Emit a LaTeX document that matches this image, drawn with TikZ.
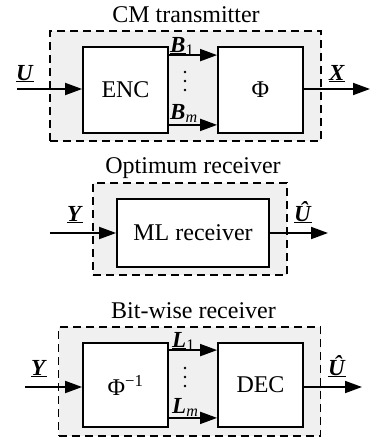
\documentclass[tikz,border=0pt]{standalone}
\usepackage{fontspec}
\setmainfont{Liberation Serif}
\usetikzlibrary{arrows.meta}
\begin{document}
\begin{tikzpicture}[x=1pt,y=-1pt,
  every node/.style={font=\fontsize{24}{26}\selectfont},
  grp/.style={draw,dash pattern=on 8pt off 5pt,fill=black!6,line width=1.8pt,inner sep=0},
  blk/.style={draw,fill=white,line width=1.8pt,inner sep=0},
  arr/.style={line width=1.8pt,-{Triangle[length=17pt,width=12pt]}},
  lab/.style={inner sep=0,font=\fontsize{23}{25}\selectfont},
  dotc/.style={fill=black,circle,inner sep=0,minimum size=2.6pt}]
\useasboundingbox (0,0) rectangle (371,437);
% ---------- CM transmitter ----------
\node[grp,minimum width=271,minimum height=110] (g1) at (185.5,86) {};
\node[anchor=base] (t1) at (186,22) {CM transmitter};
\node[blk,minimum width=85,minimum height=86] (enc) at (125.5,90) {ENC};
\node[blk,minimum width=85,minimum height=86] (phi) at (260.5,90) {Φ};
\coordinate (in1) at (17,89);
\coordinate (out1) at (370,89);
\draw[arr] (in1) -- (enc.west |- in1);
\draw[arr] (phi.east |- out1) -- (out1);
\draw[arr] ([yshift=-9pt]enc.north east) -- ([yshift=-9pt]phi.north west);
\draw[arr] ([yshift=9pt]enc.south east) -- ([yshift=9pt]phi.south west);
\node[lab,anchor=base] (lu) at (25,80) {\underline{\textbf{\textit{U}}}};
\node[lab,anchor=base] (lx) at (337,80) {\underline{\textbf{\textit{X}}}};
\node[lab,anchor=base west] (lb1) at (170,52) {\underline{\textbf{\textit{B}}}\textsubscript{1}};
\node[lab,anchor=base west] (lbm) at (170,119) {\underline{\textbf{\textit{B}}\textsubscript{\textit{m}}}};
\node[dotc] (d11) at (185,72) {};
\node[dotc] (d12) at (185,81) {};
\node[dotc] (d13) at (185,90) {};
% ---------- Optimum receiver ----------
\node[grp,minimum width=194,minimum height=92] (g2) at (190,229) {};
\node[anchor=base] (t2) at (193,173) {Optimum receiver};
\node[blk,minimum width=152,minimum height=68] (ml) at (193,233) {ML receiver};
\coordinate (in2) at (50,233);
\coordinate (out2) at (328,233);
\draw[arr] (in2) -- (ml.west);
\draw[arr] (ml.east) -- (out2);
\node[lab,anchor=base] (ly2) at (75,221) {\underline{\textbf{\textit{Y}}}};
\node[lab,anchor=base] (lu2) at (303,221) {\underline{\textbf{\textit{\^{U}}}}};
% ---------- Bit-wise receiver ----------
\node[grp,minimum width=262,minimum height=109] (g3) at (189.5,381.5) {};
\node[anchor=base] (t3) at (193.5,318) {Bit-wise receiver};
\node[blk,minimum width=85,minimum height=84] (dem) at (125.5,385) {Φ\textsuperscript{−1}};
\node[blk,minimum width=85,minimum height=84] (dec) at (260.5,385) {DEC};
\coordinate (in3) at (25,387);
\coordinate (out3) at (362,387);
\draw[arr] (in3) -- (dem.west |- in3);
\draw[arr] (dec.east |- out3) -- (out3);
\draw[arr] ([yshift=-8pt]dem.north east) -- ([yshift=-8pt]dec.north west);
\draw[arr] ([yshift=10pt]dem.south east) -- ([yshift=10pt]dec.south west);
\node[lab,anchor=base] (ly3) at (39,375) {\underline{\textbf{\textit{Y}}}};
\node[lab,anchor=base] (lu3) at (337,375) {\underline{\textbf{\textit{\^{U}}}}};
\node[lab,anchor=base west] (ll1) at (172,347) {\underline{\textbf{\textit{L}}}\textsubscript{1}};
\node[lab,anchor=base west] (llm) at (172,413) {\underline{\textbf{\textit{L}}\textsubscript{\textit{m}}}};
\node[dotc] (d31) at (185,368) {};
\node[dotc] (d32) at (185,377) {};
\node[dotc] (d33) at (185,386) {};
\end{tikzpicture}
\end{document}
